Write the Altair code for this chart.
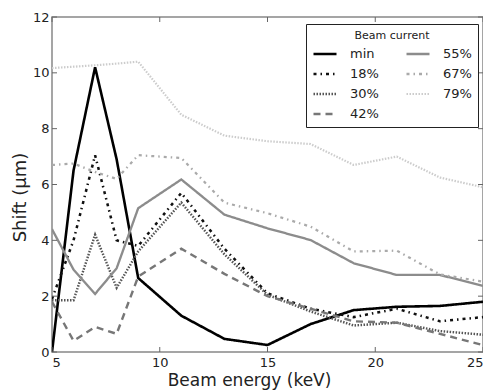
import altair as alt
import pandas as pd

energy = [5, 6, 7, 8, 9, 11, 13, 15, 17, 19, 21, 23, 25]
s_min = [0.0, 6.5, 10.2, 6.9, 2.65, 1.3, 0.47, 0.25, 1.0, 1.5, 1.62, 1.65, 1.8]
s_18 = [1.9, 4.0, 7.05, 4.0, 3.8, 5.7, 3.7, 2.1, 1.55, 1.25, 1.55, 1.1, 1.25]
s_30 = [1.85, 1.85, 4.2, 2.3, 3.6, 5.35, 3.5, 2.05, 1.45, 0.95, 1.05, 0.75, 0.62]
s_42 = [1.8, 0.4, 0.9, 0.65, 2.7, 3.7, 2.8, 2.0, 1.55, 1.1, 1.05, 0.65, 0.25]
s_55 = [4.4, 2.95, 2.08, 3.0, 5.15, 6.18, 4.92, 4.43, 4.01, 3.18, 2.76, 2.76, 2.37]
s_67 = [6.7, 6.75, 6.45, 6.2, 7.05, 6.95, 5.35, 4.97, 4.49, 3.6, 3.63, 2.78, 2.52]
s_79 = [10.17, 10.22, 10.27, 10.33, 10.4, 8.5, 7.75, 7.55, 7.45, 6.7, 7.0, 6.25, 5.9]

series_names = ["min", "18%", "30%", "42%", "55%", "67%", "79%"]
series_values = [s_min, s_18, s_30, s_42, s_55, s_67, s_79]

x_ticks = [5, 10, 15, 20, 25]
y_ticks = [0, 2, 4, 6, 8, 10, 12]

rows = []
for name, vals in zip(series_names, series_values):
    for e, v in zip(energy, vals):
        rows.append({"energy": e, "shift": v, "series": name})
df = pd.DataFrame(rows)

legend_order = series_names
colors = {"min": "#000000", "18%": "#111111", "30%": "#555555", "42%": "#777777",
          "55%": "#8c8c8c", "67%": "#aaaaaa", "79%": "#cccccc"}
dashes = {"min": [1, 0], "18%": [3, 4, 1.5, 4], "30%": [1.5, 1.5], "42%": [7, 5],
          "55%": [1, 0], "67%": [3, 4, 1.5, 4], "79%": [1.5, 1.5]}
widths = {"min": 2.6, "18%": 2.2, "30%": 2.0, "42%": 2.6, "55%": 2.6, "67%": 2.2, "79%": 2.0}

W, H = 431, 335
FONT = "DejaVu Sans"

xscale = alt.Scale(domain=[5, 25], nice=False)
yscale = alt.Scale(domain=[0, 12], nice=False)

leg = alt.Legend(title="Beam current", columns=2, orient="none", legendX=254, legendY=7)

lines = alt.Chart(df).mark_line(clip=True).encode(
    x=alt.X("energy:Q", scale=xscale,
            axis=alt.Axis(title="Beam energy (keV)", values=x_ticks, ticks=False, domain=False,
                          grid=False, labelPadding=4, labelFontSize=13, titleFontSize=17,
                          titleFontWeight="normal", titlePadding=3, labelColor="#222",
                          titleColor="#222", labelFont=FONT, titleFont=FONT, titleX=197)),
    y=alt.Y("shift:Q", scale=yscale,
            axis=alt.Axis(title="Shift (μm)", values=y_ticks, ticks=False, domain=False,
                          grid=False, labelPadding=3, labelFontSize=13, titleFontSize=18,
                          titleFontWeight="normal", titlePadding=3, labelColor="#222",
                          titleColor="#222", labelFont=FONT, titleFont=FONT, titleY=180)),
    color=alt.Color("series:N",
                    scale=alt.Scale(domain=legend_order, range=[colors[s] for s in legend_order]),
                    legend=leg),
    strokeDash=alt.StrokeDash("series:N",
                              scale=alt.Scale(domain=legend_order, range=[dashes[s] for s in legend_order]),
                              legend=leg),
    strokeWidth=alt.StrokeWidth("series:N",
                                scale=alt.Scale(domain=legend_order, range=[widths[s] for s in legend_order]),
                                legend=leg),
    order=alt.Order("energy:Q"),
)

xt = pd.DataFrame({"v": x_ticks})
yt = pd.DataFrame({"v": y_ticks})
tick_color = "#666666"
bottom_ticks = alt.Chart(xt).mark_rule(color=tick_color, strokeWidth=1).encode(
    x=alt.X("v:Q", scale=xscale), y=alt.value(H), y2=alt.value(H - 5))
top_ticks = alt.Chart(xt).mark_rule(color=tick_color, strokeWidth=1).encode(
    x=alt.X("v:Q", scale=xscale), y=alt.value(0), y2=alt.value(5))
left_ticks = alt.Chart(yt).mark_rule(color=tick_color, strokeWidth=1).encode(
    y=alt.Y("v:Q", scale=yscale), x=alt.value(0), x2=alt.value(5))
right_ticks = alt.Chart(yt).mark_rule(color=tick_color, strokeWidth=1).encode(
    y=alt.Y("v:Q", scale=yscale), x=alt.value(W), x2=alt.value(W - 5))

chart = alt.layer(lines, bottom_ticks, top_ticks, left_ticks, right_ticks).properties(
    width=W, height=H,
    autosize=alt.AutoSizeParams(type="none"),
    padding={"left": 44, "top": 9, "right": 0, "bottom": 38},
).configure(
    font=FONT
).configure_view(
    stroke="#888888", strokeWidth=1.5
).configure_legend(
    strokeColor="#222", fillColor="white", padding=6, strokeWidth=1,
    cornerRadius=0, titleFontSize=11, titleFontWeight="normal", titleFont=FONT,
    titleColor="#222", titleAnchor="middle", labelFontSize=13, labelFont=FONT,
    labelColor="#222", symbolType="stroke", symbolSize=529, rowPadding=0,
    columnPadding=22, labelOffset=12, titlePadding=0
)

chart.save("out.html", embed_options={"renderer": "svg", "actions": False})
